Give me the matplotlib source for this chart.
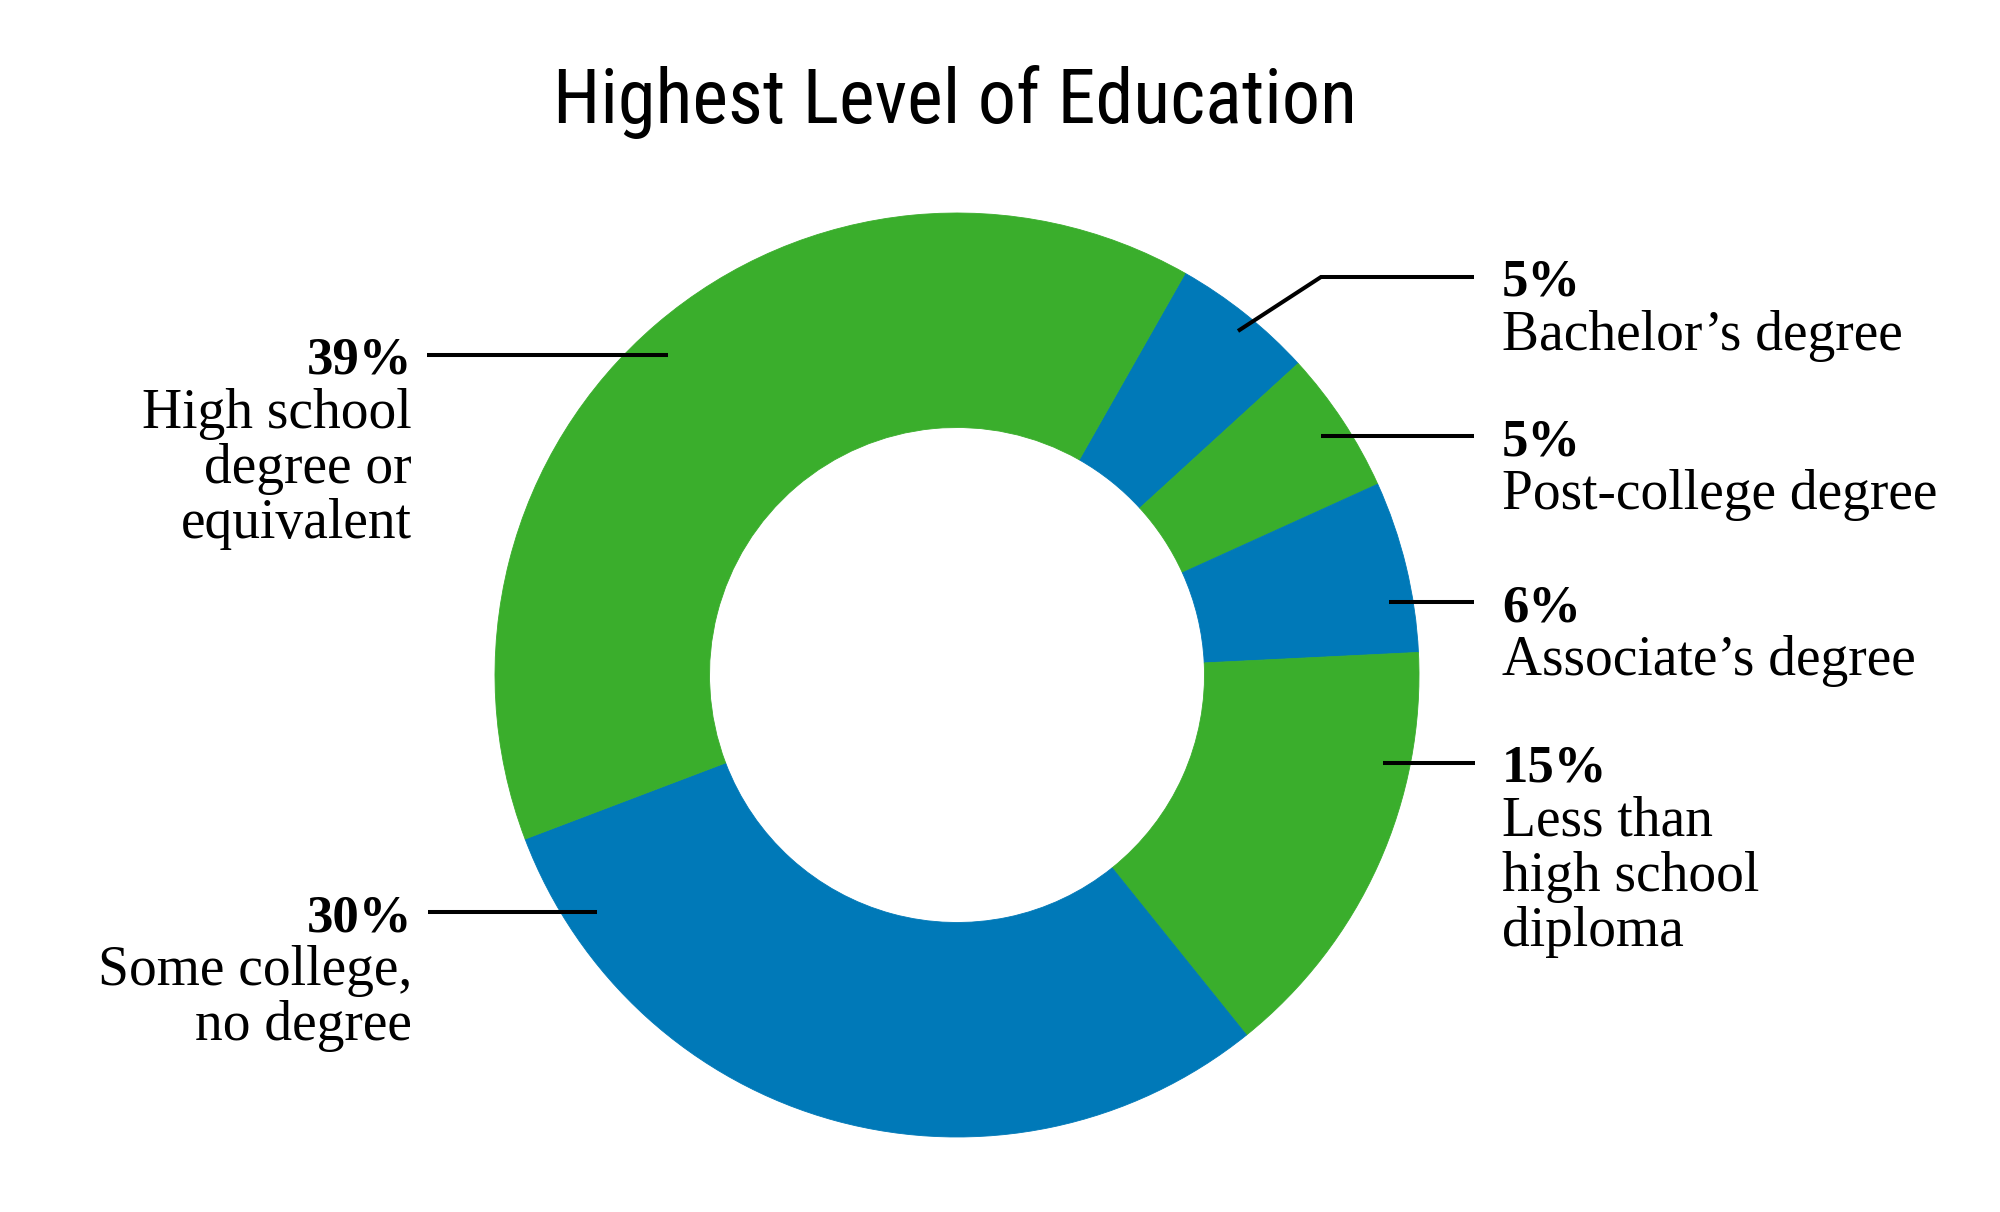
import matplotlib
matplotlib.use("Agg")
import matplotlib.pyplot as plt
import matplotlib.font_manager as fm

# ---------------- data ----------------
title = "Highest Level of Education"
categories = ["Bachelor’s degree", "Post-college degree", "Associate’s degree",
              "Less than high school diploma", "Some college, no degree",
              "High school degree or equivalent"]
values = [5, 5, 6, 15, 30, 39]
label_lines = [["Bachelor’s degree"],
               ["Post-college degree"],
               ["Associate’s degree"],
               ["Less than", "high school", "diploma"],
               ["Some college,", "no degree"],
               ["High school", "degree or", "equivalent"]]
slice_colors = ["#0079B8", "#3AAE2C", "#0079B8", "#3AAE2C", "#0079B8", "#3AAE2C"]

# ---------------- layout (pixel coords, y from top) ----------------
W, H = 2000, 1212
CX, CY = 957, 675
R_OUT, R_IN = 462, 247.5
START = 60.4

sides = ["R", "R", "R", "R", "L", "L"]
leaders = [[(1238, 331), (1321, 277), (1474, 277)],
           [(1321, 436), (1474, 436)],
           [(1389, 602), (1474, 602)],
           [(1383, 763), (1475, 763)],
           [(597, 912), (428, 912)],
           [(668, 355), (427, 355)]]
X_RIGHT, X_LEFT = 1502, 412

def Y(y):
    return H - y

serif = ["Liberation Serif", "DejaVu Serif"]
names = {f.name for f in fm.fontManager.ttflist}
title_family = next((n for n in ["Liberation Sans Narrow", "DejaVu Sans Condensed",
                                 "Roboto Condensed", "Open Sans Condensed"] if n in names),
                    "DejaVu Sans")

fig = plt.figure(figsize=(20, 12.12), dpi=100)
ax = fig.add_axes([0, 0, 1, 1])

wedges, _ = ax.pie(values, colors=slice_colors, startangle=START, counterclock=False,
                   radius=R_OUT, center=(CX, Y(CY)),
                   wedgeprops=dict(width=R_OUT - R_IN, linewidth=0.6))
for w_, c in zip(wedges, slice_colors):
    w_.set_edgecolor(c)
ax.set_xlim(0, W)
ax.set_ylim(0, H)
ax.set_aspect("equal")
ax.axis("off")

for v, lines, side, pts in zip(values, label_lines, sides, leaders):
    xs = [p[0] for p in pts]
    ys = [Y(p[1]) for p in pts]
    ax.plot(xs, ys, color="black", lw=2.9, solid_capstyle="butt", solid_joinstyle="miter")
    ly = pts[-1][1]
    if side == "R":
        x, ha = X_RIGHT, "left"
    else:
        x, ha = X_LEFT, "right"
    ax.text(x, Y(ly + 19), f"{v}%", ha=ha, va="baseline", fontsize=38,
            fontweight="bold", family=serif, color="black")
    for i, line in enumerate(lines):
        ax.text(x, Y(ly + 73 + 55 * i), line, ha=ha, va="baseline", fontsize=40,
                family=serif, color="black")

t = ax.text(955, Y(123), title, ha="center", va="baseline", fontsize=60,
            family=[title_family, "DejaVu Sans"], color="black")
renderer = fig.canvas.get_renderer()
bb = t.get_window_extent(renderer)
target_w = 804
t.set_fontsize(min(60 * target_w / bb.width, 64))

fig.savefig("out.png", dpi=100, facecolor="white")
